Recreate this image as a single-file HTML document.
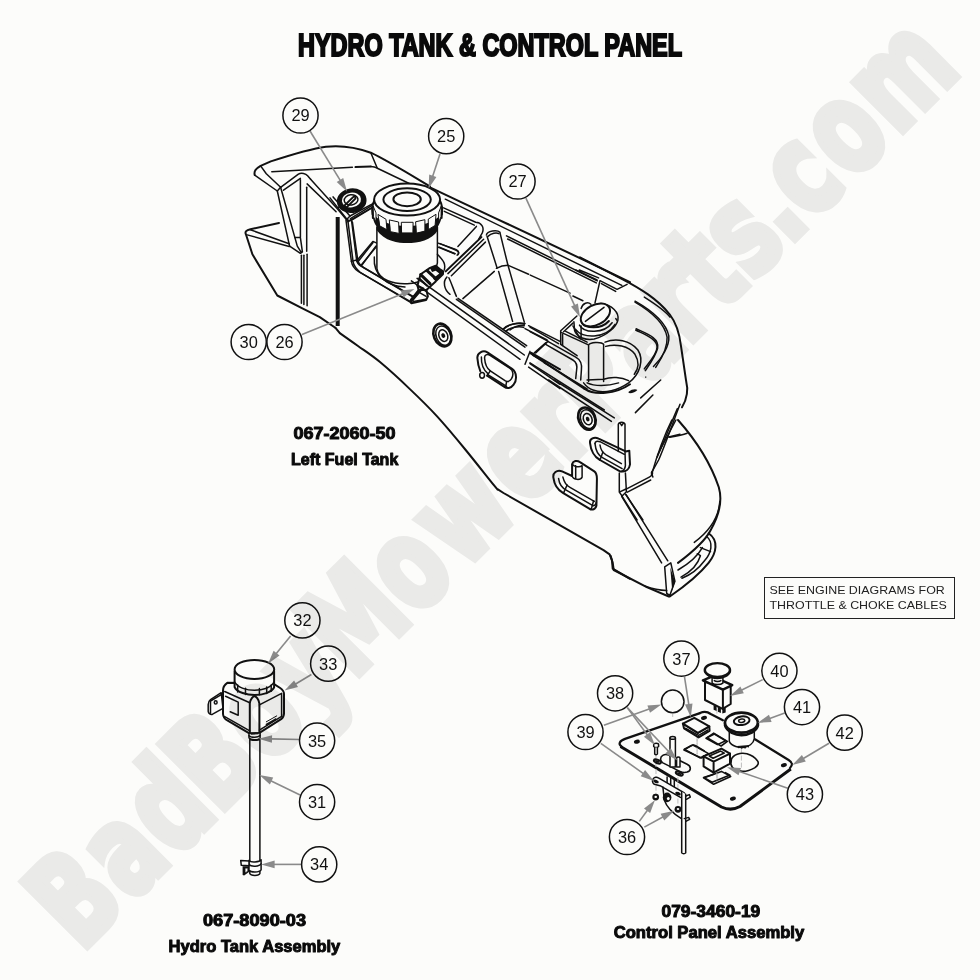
<!DOCTYPE html>
<html lang="en"><head><meta charset="utf-8"><title>Hydro Tank &amp; Control Panel</title>
<style>
html,body{margin:0;padding:0;background:#fcfcfa;}
body{width:980px;height:980px;overflow:hidden;}
svg{display:block;}
.t{font-family:"Liberation Sans",sans-serif;}
.b{font-family:"Liberation Sans",sans-serif;font-weight:bold;fill:#0a0a0a;stroke:#0a0a0a;stroke-width:.55;stroke-linejoin:round;}
.n{font-family:"Liberation Sans",sans-serif;font-size:16.4px;fill:#111;text-anchor:middle;}
.c{fill:#fcfcfa;stroke:#111;stroke-width:1.5;}
.l{stroke:#8a8a8a;stroke-width:1.6;fill:none;}
.a{fill:#8a8a8a;stroke:none;}
.k{fill:none;stroke:#111;stroke-width:1.5;stroke-linecap:round;stroke-linejoin:round;}
.k2{fill:none;stroke:#111;stroke-width:2;stroke-linecap:round;stroke-linejoin:round;}
.k1{fill:none;stroke:#111;stroke-width:1;stroke-linecap:round;stroke-linejoin:round;}
.w{fill:#fcfcfa;stroke:#111;stroke-width:1.5;stroke-linecap:round;stroke-linejoin:round;}
.w2{fill:#fcfcfa;stroke:#111;stroke-width:2;stroke-linecap:round;stroke-linejoin:round;}
.f{fill:#111;stroke:none;}
.g{fill:none;stroke:#bdbdbd;stroke-width:1;}
</style></head><body>
<svg width="980" height="980" viewBox="0 0 980 980">
<rect width="980" height="980" fill="#fcfcfa"/>
<!-- title.svg -->
<text class="b" x="298" y="55.6" font-size="31.4" textLength="384" lengthAdjust="spacingAndGlyphs" style="stroke-width:2.2;stroke-linejoin:miter">HYDRO TANK &amp; CONTROL PANEL</text>

<!-- tank.svg -->
<g id="tank">
<path class="k2" d="M 254.7 175.1 C 253.7 170.6 256.1 168.6 260.6 165.9 L 270.8 161.4 C 291.2 154.7 311.6 148.6 325.9 146.7 C 340.2 145.1 354.5 146.7 370.8 152.7 C 387.1 160.4 409.6 174.3 430 186.5"/>
<path class="k" d="M 271.8 171.8 L 352.4 167.3"/>
<path class="k2" d="M 355.5 167.1 L 370.8 166.5"/>
<path class="k" d="M 370.8 152.7 L 377.3 168.2"/>
<path class="k" d="M 370.8 166.5 C 373.9 166.5 375.9 167.3 377.3 168.2 C 393.3 175.7 413.7 185.9 430 193.5"/>
<path class="k" d="M 260.6 165.9 L 266.3 173.7 L 280.6 187.3"/>
<path class="k" d="M 254.7 175.1 L 277.3 191 L 280.6 187.3"/>
<path class="k" d="M 277.3 191 L 289.6 246.1"/>
<path class="k" d="M 280.6 187.3 L 294.9 237.6"/>
<path class="k" d="M 280.6 187.3 L 298.4 174.1 C 301.4 172.2 305.9 173.7 307.6 175.7 L 310.6 179.2"/>
<path class="k" d="M 283.5 190.2 L 300.4 178.4"/>
<path class="k" d="M 300.4 179.8 L 300.4 236.9"/>
<path class="k" d="M 306.7 187.3 L 306.7 251.2"/>
<path class="k" d="M 289.6 246.1 L 300.4 253.3 L 302.4 251.8 L 300.4 237.6 L 294.9 237.6 L 297.3 246.1 L 301.4 252.7"/>
<path class="k" d="M 301.4 255.3 L 301.4 303.3"/>
<path class="k" d="M 303.9 255.3 L 303.9 304.5"/>
<path class="k" d="M 307.1 254.3 L 307.1 305.7"/>
<path class="k2" d="M 279 222.9 L 250.4 229.2 C 246.3 230.2 244.7 231.8 245.9 234.3 L 252.4 254.3 L 277.3 295.5 L 302.4 308.4 L 319.8 317.1 L 335.3 327.8"/>
<path class="k" d="M 247.3 234.9 L 289.2 246.5"/>
<path class="k" d="M 250.4 229.8 L 289.2 243.7"/>
<path class="k" d="M 310.6 179.2 L 338.2 209.8 L 348 221.6"/>
<path class="k" d="M 307.1 183.9 L 336.1 211.8"/>
<path d="M337.7 217V326" stroke="#111" stroke-width="4" fill="none"/>
<path class="k" d="M 348 221.6 L 373.9 206.3"/>
<path class="k" d="M 350.4 218.6 L 372.9 204.9"/>
<path class="k" d="M 348 221.6 L 353.1 261.8 C 353.7 265.5 355.5 268.2 360.6 272.7 L 412.2 303.3"/>
<path class="k" d="M 352.4 222 L 357.8 260.4 C 358.6 263.5 360.6 265.5 363.7 267.6 L 414.7 298.2"/>
<path class="k" d="M 357.8 262 L 372.9 242.7"/>
<path class="k" d="M 361.6 265.5 L 375.9 246.1"/>
<path class="k2" d="M 335.3 327.7 L 339.8 333.1  C 342.8 335.2 351.3 341.2 358.0 346.0 C 364.7 350.8 371.6 355.1 380.0 362.1 C 388.4 369.1 399.1 378.8 408.6 387.9 C 418.1 396.9 427.6 406.0 437.1 416.4 C 446.6 426.8 456.2 438.4 465.7 450.0 C 475.2 461.6 489.0 479.2 494.3 485.7 C 499.6 492.2 497.0 488.6 497.5 489.2 L 503.5 493 L 603.5 550.2 L 609.6 554.3 L 612 560.4 L 612.7 568.6 L 630 578.8"/>
<path class="k2" d="M 610.6 555.7 L 612.7 562.9 L 613.7 570 L 647.3 587.3 L 668.8 596.5"/>
<path class="k2" d="M 678 420 C 694.3 438.4 710.6 462.9 718.8 487.3 C 722.9 501.6 718.8 515.9 710.6 530.2 C 706.5 538.4 694.3 550.6 678 562.9"/>
<path class="k" d="M 719.8 501.6 C 718.8 515.9 710.6 530.2 694.3 542.4"/>
<path class="k2" d="M 708.6 533.3 C 718.8 540.4 716.7 552.7 708.6 562.9 C 700.4 573.1 686.1 585.3 669.8 596.5"/>
<path class="k" d="M 706.5 536.3 C 713.7 542.4 711.6 552.7 704.5 560.8 C 698.4 569 690.2 575.1 682 578.2"/>
<path class="k" d="M 700.4 547.6 L 710.6 551.6"/>
<path class="k" d="M 678 570 C 690.2 562.9 698.4 554.7 702.4 547.6"/>
<path class="k" d="M 681 577.1 C 692.2 571 698.4 562.9 700.4 555.7 L 697.3 553.7"/>
<path class="k" d="M 621.8 496.5 L 661.6 562.9"/>
<path class="k" d="M 625.9 494.5 L 667.8 560.8"/>
<path class="k" d="M 664.7 566.9 L 670.8 562.9 L 674.9 581.2 L 669.8 595.5 L 666.7 593.5 Z"/>
<path class="f" d="M 670.2 567.3 L 675.1 581.6 L 672.2 590.4 Z"/>
<path class="k" d="M 645.3 586.3 C 653.5 589.4 661.6 590.4 666.7 590.4"/>
<path class="k" d="M 651.4 475.1 C 655.5 460.8 663.7 436.3 671.8 420 M 657.6 454.7 L 675.9 420"/>
<path class="k" d="M 669.8 437.3 C 675.9 436.3 682 435.3 687.1 433.3"/>
<path class="k2" d="M 580 257.3 L 620.8 278.4 C 641.2 289 657.6 299.2 669.8 314.5 C 676.9 323.7 679.6 333.9 681 346.1 L 686.1 380.8 C 688.2 389 688.2 397.1 682 407.3"/>
<path class="k" d="M 635.1 301.2 C 651.4 310.4 665.7 321.6 668.8 335.9 C 669.8 346.1 661.6 358.4 653.5 366.5"/>
<path class="k" d="M 636.1 328.8 C 647.3 333.9 659.6 338 657.6 348.2 C 655.5 356.3 649.4 364.5 645.3 370.6"/>
<path class="k2" d="M 430 187.3 C 491.2 216.5 572.9 254.3 630 282.2"/>
<path class="k" d="M 445.3 199.2 L 621.8 285.3"/>
<path class="k" d="M 506.5 235.9 L 597.3 280.8 M 507.6 239 L 596.3 282.9"/>
</g>

<!-- tank2.svg -->
<g id="tank2">
<path class="k" d="M 330 197.9 L 346.9 219.3 C 348.3 220.9 350 220.9 351.7 220 L 372.9 207.4"/>
<path class="k" d="M 333.1 196.9 L 350 216 L 372.9 203.6"/>
<path class="k" d="M 338.6 207.4 L 341.7 205.1 M 346.9 219.3 L 350 216"/>
<path class="k" d="M 346 220.3 L 351.4 261.4 C 352.1 266 354.3 268.9 358.6 271.7 L 411.4 302.1"/>
<path class="k" d="M 351.4 219.3 L 356.6 260 C 357.1 262.9 358.6 264.6 360.9 266 L 414.3 297.1"/>
<path class="k" d="M 351.4 261.4 L 356.6 260"/>
<path class="k" d="M 356.6 260.9 L 372.9 241.4 L 376.9 243.1 M 360.9 265.4 L 376.9 246"/>
<path class="k" d="M 437.4 242.9 L 455.7 249.4 C 458.6 250.7 459.3 252.9 457.9 254.6 M 438 247.1 L 454.6 253.7"/>
<ellipse class="f" cx="351.7" cy="200.7" rx="14.9" ry="12.3" transform="rotate(-8 351.7 200.7)"/>
<ellipse class="w" cx="351.4" cy="200.0" rx="9.6" ry="7.4" transform="rotate(-8 351.4 200.0)" style="stroke:none"/>
<ellipse class="k" cx="351.1" cy="199.9" rx="6.9" ry="5.1" transform="rotate(-8 351.1 199.9)"/>
<path class="k2" d="M 344.9 205.1 L 353.6 196.6 M 347.1 206.9 L 355.4 198.6 M 344.9 205.1 C 344.3 206.6 346 207.7 347.1 206.9 M 353.6 196.6 C 354.6 196 356 197.4 355.4 198.6"/>
<path class="k" d="M 374.3 257.1 C 372.9 275.7 387.1 286.4 405 286.9"/>
<path class="w" d="M 376.9 227.1 L 376.9 268.6 C 378.6 280 394.3 284.3 407.1 283.7 C 421.4 282.9 435.7 275.7 437.4 262.9 L 437.4 227.1 Z"/>
<path class="f" d="M 372.9 212.9 L 372.9 217.9 C 373.6 221.4 375 224.3 376.6 226.4 L 376.6 230 C 384.3 241.4 398.6 243.1 407.1 243.1 C 418.6 243.1 431.4 240.7 438 230 L 438 226.4 C 439.7 223.6 441.1 220 441.6 217.9 L 441.6 212.9 Z"/>
<path class="w2" d="M 374.3 200.7 C 372.3 204.3 372 210 372.6 214.3 C 378.6 224.3 397.1 227.1 407.1 227.1 C 418.6 227.1 435.7 224.3 441.9 214.3 C 442.4 210 442 204.3 440 200.7 Z"/>
<path class="w" d="M 378.3 214.6 L 386 219.3 L 386.9 229.7 L 380 226 Z" style="stroke-width:1"/>
<path class="w" d="M 389.7 220 L 398.6 222 L 399.1 233.4 L 390.6 231.7 Z" style="stroke-width:1"/>
<path class="w" d="M 401.7 222.3 L 413.1 222.3 L 412.9 232.9 L 402 232.9 Z" style="stroke-width:1"/>
<path class="w" d="M 416 221.7 L 424.9 219.7 L 424.9 231.1 L 416.6 233.1 Z" style="stroke-width:1"/>
<path class="w" d="M 428.6 218.9 L 436 214.3 L 435.1 225.4 L 428.6 229.4 Z" style="stroke-width:1"/>
<path class="k2" d="M 372.6 207.4 L 372.9 217.9 M 441.9 207.4 L 441.6 217.9"/>
<path class="w" d="M 373.3 206.4 L 376 212.9 L 376 222.1 L 373.6 217.1 Z" style="stroke-width:1"/>
<path class="w" d="M 441.1 206.4 L 438.6 212.9 L 438.6 222.1 L 440.9 217.1 Z" style="stroke-width:1"/>
<ellipse class="w2" cx="407.1" cy="199.6" rx="33.0" ry="16.0"/>
<ellipse class="k2" cx="407.1" cy="199.6" rx="23.7" ry="11.4"/>
<ellipse class="k2" cx="407.1" cy="199.3" rx="13.7" ry="6.9"/>
<path class="w" d="M 411.4 303.2 L 410.7 300 L 418.6 290 L 417.5 285.7 L 419.3 278.6 L 420.7 274.3 L 430 267.9 L 435.7 265.7 L 440 269.3 L 443.2 271.4 L 442.9 274.3 L 435.7 281.4 L 426.4 290 L 427.9 296.4 L 426.1 300 Z" style="stroke-width:2"/>
<path class="f" d="M 430 268.2 L 435.7 265.9 L 443.2 271.4 L 442.9 274.6 L 435.7 281.4 L 432.9 278.6 L 439.3 273.6 L 435.7 270.7 L 432.1 272.1 Z"/>
<path class="k" d="M 420.7 274.6 L 430 283.6 M 427.1 270.7 L 435.7 278.6" style="stroke-width:3"/>
<path class="k" d="M 419.3 278.6 L 427.1 285.7 M 418.6 290 L 425.7 290 L 426.4 290 M 417.5 285.7 L 423.6 288.6" style="stroke-width:2"/>
<path class="k" d="M 412.1 299.6 L 420.4 290" style="stroke-width:3.4"/>
<path class="k" d="M 413.6 301.6 L 425.7 299.3 M 420 292.9 L 426.1 296.4 M 411.4 303.2 L 413.6 301.6 L 412.1 299.6"/>
<path class="k" d="M 437.4 254.3 C 444.3 261.4 445.7 264.3 444.3 270"/>
</g>

<!-- tank3.svg -->
<g id="tank3">
<path class="k" d="M 443.6 207.9 L 475.7 222.3 C 481.4 222.6 484.6 227.4 482.3 232.9 L 478.6 239.3"/>
<path class="k" d="M 444.3 211.4 L 474.3 225.1"/>
<path class="k" d="M 476.4 226.4 L 457.9 246.4"/>
<path class="k2" d="M 481.4 237.1 L 445.7 271.4"/>
<path class="k" d="M 483.6 239.3 L 447.9 273.6"/>
<path class="k" d="M 485.4 242.1 L 451.4 275.7"/>
<path class="k" d="M 440 243.6 L 455.7 250 C 459.3 251.4 459.6 253.7 457.1 255.1 M 439.3 247.1 L 455.1 253.7"/>
<path class="k" d="M 486.4 235 C 487.1 230.7 497.1 229.3 500 232.3 M 487.9 236.4 C 491.4 233.1 496.4 232.3 498.9 233.7"/>
<path class="k" d="M 487.1 236.4 L 497.1 267.9 M 498.6 271.4 L 512.6 321.4"/>
<path class="k" d="M 500 232.9 L 507.9 265 L 524.3 322.1"/>
<path class="k" d="M 496.4 268.3 C 500 266.4 504.3 265.4 507.9 265.3"/>
<path class="k" d="M 508.3 265.4 L 528.6 274.3 M 530.3 275.1 L 570 293.1"/>
<path class="k" d="M 494.3 271.4 L 462.9 298.6"/>
<path class="k" d="M 446.9 277.1 C 442.6 281.4 444 290 450 294.3 M 448.9 277.7 C 451.4 282.9 453.6 290 456.4 296.4"/>
<path class="k" d="M 502.9 329.3 C 507.1 324.3 518.6 322.1 525 323.6 M 510 330 C 514.3 326.4 520 325 524.3 325.7"/>
<path class="k" d="M 600 280.7 L 617.1 289.3 L 627.1 284.3 M 601.4 283.6 L 615.7 291.4 M 600 280.7 L 595 302.9"/>
<path class="k" d="M 575.7 270 L 597.1 280 M 579.3 270 L 598.6 277.9"/>
<path class="k" d="M 572.9 296 L 582.9 300.7"/>
<path class="k" d="M 581.1 308.4 C 582.8 303.1 587.7 301.4 590.9 304.3"/>
<path class="k" d="M 600.7 303.5 C 612.1 304.7 619.5 312.9 617.9 320.2 C 616.2 326.7 607.2 335.7 594.2 339 C 586 340.6 577 337.3 574.6 330.8 L 573.9 321.8"/>
<path class="k" d="M 575.4 329.2 C 581.9 339 605.6 339 615 324.3"/>
<path class="k" d="M 579.5 325.1 C 583.6 333.3 604 334.1 612.1 322.7"/>
<path class="k2" d="M 581.9 322.7 C 585.2 328.4 600.7 330 608.9 321"/>
<path class="k" d="M 581.1 325.9 L 581.1 338.2"/>
<ellipse class="w2" cx="595.4" cy="314.9" rx="15.7" ry="10.0" transform="rotate(-28 595.4 314.9)"/>
<path class="k" d="M 585.4 321.4 L 604 307.3"/>
<path class="k" d="M 615.8 318.6 L 617 320.4"/>
<path class="k" d="M 560.7 330.7 L 576.9 316 M 560.7 330.7 L 560.7 344.3 M 563.6 331.7 L 572.9 323.1"/>
<path class="k" d="M 562.6 334.3 L 562.6 345.4 M 565.7 331.4 L 587.1 342.1"/>
<path class="k" d="M 561.7 332.6 L 587.9 344.6 M 572.9 326 L 580.3 338.9"/>
<path class="k" d="M 588.6 345 C 590 342.1 601.4 341.4 603.6 344.3 L 603.6 381.4 M 588.6 345 L 588.6 381.4"/>
<path class="k" d="M 560.7 344.3 L 577.1 355.7"/>
<path class="k" d="M 535.7 352.9 L 547.9 341.4 L 575.7 357.1 C 580 359.4 582.3 362.9 581.4 370 L 580.7 380"/>
<path class="k" d="M 545.7 344.3 L 572.9 360 C 576.4 362.1 577.4 365.7 576.6 370 L 575.7 378.6"/>
<path class="k" d="M 530 327.1 L 558.6 343.6 M 530 331.7 L 548.3 341.4"/>
<path class="k2" d="M 530 352.9 L 584.3 388.6"/>
<path class="k" d="M 544.3 362.9 L 587.1 388.9"/>
<path class="k" d="M 530 362.9 L 604.3 410"/>
<path class="k" d="M 605 342.1 C 615.7 337.9 630 340 637.9 350 C 644.3 360 640 374.3 628.6 382.9 C 618.6 390 604.3 394.3 592.9 390 C 588.6 388.6 585.7 385.7 583.6 382.9"/>
<path class="k" d="M 605.7 346.4 C 615.7 343.6 628.6 345.7 635 354.3 C 639.3 361.4 638.6 368.6 634.3 374.3"/>
<path class="k" d="M 587.1 380 L 603.6 379.3 C 611.4 376.4 621.4 377.1 628.6 380.7"/>
<path class="k" d="M 587.1 382.9 C 594.3 386.4 607.1 386.4 618.6 382.9"/>
<path class="k2" d="M 584.3 388.6 C 594.3 395.7 615.7 394.3 630 384.3"/>
<path class="f" d="M 628.6 391.7 C 631.4 389.4 635.7 388.6 637.4 390 C 635.7 392.3 631.4 393.7 628.6 393.1 Z"/>
<path class="f" d="M 645.1 376.6 L 646.3 376.6 L 646.3 377.7 L 645.1 377.7 Z"/>
<path class="k" d="M 635 302.1 C 648.6 310 664.3 321.4 667.1 337.1 C 667.9 350 658.6 362.9 655.7 367.4"/>
<path class="k" d="M 635.7 330 C 644.3 334.3 657.1 338.6 657.1 347.1 C 657.1 354.3 648.6 362.9 644.3 368.9"/>
<path class="k" d="M 644.3 297.1 C 655.7 304.3 665.7 311.4 670 317.1"/>
</g>

<!-- tank4.svg -->
<g id="tank4">
<ellipse class="k2" cx="442.4" cy="335.0" rx="8.6" ry="11.7" transform="rotate(-22 442.4 335.0)" style="stroke-width:2.6"/>
<ellipse class="k" cx="443.3" cy="335.6" rx="7.1" ry="10.0" transform="rotate(-22 443.3 335.6)"/>
<ellipse class="k" cx="443.3" cy="335.6" rx="4.3" ry="6.0" transform="rotate(-22 443.3 335.6)"/>
<ellipse class="f" cx="443.3" cy="335.6" rx="1.9" ry="2.4" transform="rotate(-22 443.3 335.6)"/>
<path class="k" d="M 411.4 280.9 L 520 359.3"/>
<path class="k" d="M 417.1 278.4 L 524.3 355"/>
<path class="k" d="M 456.4 299.3 L 525 347.1 M 458 298.3 L 526.6 345.7"/>
<path class="k" d="M 530 351.4 L 525 364.3"/>
<path class="k2" d="M 531.4 352.9 L 560 369.3"/>
<path class="k" d="M 532.9 355.4 L 544.3 361.7"/>
<path class="k" d="M 530 363.6 L 560 384.3 M 528.6 367.1 L 560 388.6"/>
<path class="k" d="M 503.6 329.3 C 507.1 325 517.1 322.1 524.3 324.3 M 505.7 331.4 C 510 327.4 518.6 325.7 523.6 327.4"/>
<path class="k" d="M 525 328.6 L 547.1 340 M 528.6 325.7 L 560 341.4"/>
<path class="k" d="M 534.3 352.9 L 545.7 342.9"/>
<path class="k2" d="M 480.3 371.1 C 478.6 367.1 477.7 362.9 477.4 358.3 C 476.9 352.9 482.9 349.7 487.4 352.3 L 512.1 368.9 C 516.9 372.1 517.1 380.7 513.6 384.6 C 510.7 388.6 507.1 388.9 504 386.6 L 487.1 375.7"/>
<ellipse class="k" cx="482.1" cy="375.3" rx="2.4" ry="2.9"/>
<path class="k" d="M 484.6 358.3 C 484.3 355 487.1 353.6 490 355.4 L 510 368.3 C 513.6 370.7 513.6 375.7 511.4 378.9 C 509.7 381.4 507.4 382.1 505.4 380.9 L 490.3 370.9 C 487.1 368.6 485 364.3 484.6 358.3"/>
<path class="k" d="M 487.4 374.3 L 506.6 386.3 M 490.3 370.9 L 487.1 375.7 M 506.6 381.4 L 505.7 387.1"/>
<path class="k" d="M 481.4 357.1 C 481.1 364.3 483.6 370 487.9 373.6"/>
<ellipse class="k2" cx="586.9" cy="418.6" rx="8.3" ry="11.4" transform="rotate(-22 586.9 418.6)" style="stroke-width:2.6"/>
<ellipse class="k" cx="587.7" cy="419.1" rx="6.9" ry="9.7" transform="rotate(-22 587.7 419.1)"/>
<ellipse class="k" cx="587.7" cy="419.1" rx="4.2" ry="5.8" transform="rotate(-22 587.7 419.1)"/>
<ellipse class="f" cx="587.7" cy="419.1" rx="1.8" ry="2.4" transform="rotate(-22 587.7 419.1)"/>
<path class="k" d="M 548.6 380 L 611.4 421.4 M 554.3 380 L 614.3 417.9"/>
<path class="k" d="M 660.7 380 L 640.7 397.9 M 652.9 395 L 635.4 412.6"/>
<path class="k" d="M 618.3 424.3 L 618.3 451.4 M 625 424.3 L 625 451.4 M 618.3 424.3 C 618.9 421.4 624.3 421.4 625 424.3 M 620 422.9 L 621.7 425.7 L 623.6 422.9"/>
<path class="k2" d="M 590 442.9 C 589.3 438.6 594.3 436.4 598.6 438.6 L 625.7 451.4 L 629.3 450.7 L 630 464.3 C 629.3 469.3 625.7 471.4 622.9 471.4 L 620 471.4 L 600 460 C 594.3 457.1 590.7 450 590 442.9"/>
<path class="k" d="M 595 443.6 C 595 441.4 597.1 440.7 600 441.7 L 624.3 454.3"/>
<path class="k" d="M 595 443.6 C 595.7 451.4 598.6 455.7 602.9 457.9 L 622.1 468.6"/>
<path class="k" d="M 600 445 C 600.7 450 602.9 452.9 605.7 454.6 L 621.4 463.6"/>
<path class="k" d="M 625 451.4 L 625.4 465.7 C 625.1 468.6 623.6 470.7 621.4 471.4 M 602.9 452.1 L 600 460"/>
<path class="k" d="M 619.3 472.9 L 619.3 492.1 L 622.1 496 L 626.4 491.7 L 625.4 472.9 M 619.3 492.1 L 625.4 489.3"/>
<path class="k" d="M 625.7 489.3 L 649.3 477.1 C 652.1 475.7 653.1 473.6 652.1 471.4 M 627.4 492.1 L 650.7 480"/>
<path class="k" d="M 622.1 496.4 L 637.1 520 M 625.7 494.3 L 642.9 520"/>
<path class="k" d="M 680 404.3 C 672.9 422.9 664.3 447.1 658.6 460 L 651.4 472.9 L 652.9 477.1"/>
<path class="k" d="M 677.4 408.6 C 670 425.7 662.9 444.3 657.1 457.1"/>
<path class="k" d="M 668.6 437.1 L 680 434.3"/>
<path class="k2" d="M 553.6 478.6 C 552.1 472.9 557.1 469.3 562.1 471.4 L 572.1 476 L 572.1 464.3 C 572.9 460.7 577.1 460 580 462.1 L 594.3 471.4 C 596.4 472.9 597.1 475.7 596.9 480 L 596.4 505.7 C 595.7 509.3 592.1 510.7 589.3 508.6 L 562.9 492.9 C 557.1 489.3 554.3 484.3 553.6 478.6"/>
<path class="k" d="M 572.1 476 C 573.6 480.3 580.7 480.3 582.1 477.1 L 582.1 465.7 M 575.7 465.7 L 575.7 478.6 M 572.1 464.3 C 574.3 467.1 580 467.4 582.1 465.7"/>
<path class="k" d="M 558.6 478.6 C 559.3 485 562.9 488.6 567.1 490.7 L 592.9 505.7"/>
<path class="k" d="M 562.9 477.1 C 564.3 482.9 566.4 485.7 570 487.4 L 594.3 501.4"/>
<path class="k" d="M 567.1 485 L 563.6 492.9 M 593.6 500.7 L 591.4 508.6 M 592.9 505.7 C 594.3 505.7 596 504.3 596.4 502.1"/>
</g>

<!-- hydro.svg -->
<g id="hydro">
<path class="w" d="M 221.2 692.7 L 210.5 699.6 C 208.7 701 208.2 702.4 208.2 704.5 L 208.2 711.4 C 208.4 713.5 210.5 714.9 212.6 714.2 L 223 708.3 Z"/>
<path class="k" d="M 210.5 701 L 210.5 713.2 M 210.5 701 L 222.1 694.1"/>
<ellipse class="k" cx="215.7" cy="702.4" rx="1.4" ry="1.7"/>
<path class="w2" d="M 227.3 682.8 C 224.7 684.5 223 687.1 223 690.6 L 223 714 C 223.3 717.5 224.7 719.2 227.3 720.4 L 249.8 733.6 L 259.4 732.9 L 281.1 719.2 C 283.3 717.5 284 715.8 284 713.2 L 284 694.1 C 284 691.5 282.8 689.7 280.2 688 L 273.3 683.7 Z"/>
<path class="k" d="M 259.4 704.8 L 281.6 693.4 M 281.6 693.4 L 281.6 716.3 M 259.4 730.2 L 281.6 716.3"/>
<path class="k" d="M 224.7 691.5 L 249.8 702.8"/>
<path class="k" d="M 225.6 696.2 L 238.2 702.1 L 238.2 715.2 L 230.2 711.8"/>
<path class="k" d="M 224.7 716.6 L 249.8 730.9"/>
<path class="k2" d="M 249.8 733.6 L 249.8 703.1 C 250.7 698.4 253.3 696.2 254.5 696.2 C 255.9 696.2 258.7 698.9 259.4 703.6 L 259.4 732.9"/>
<path class="f" d="M 265.6 723.9 L 276 718 L 276.4 719.8 L 266 725.7 Z"/>
<path class="k1" d="M 266.3 721.8 L 276.7 715.9"/>
<path class="w2" d="M 234.6 671.2 L 234.6 687.1 C 236.8 692.3 247.2 695.1 254.5 695.1 C 262.9 695.1 271.5 692.3 274.1 687.5 L 274.1 671.2 Z"/>
<path class="k" d="M 234.6 681.9 C 237.7 688 247.2 690.3 254.5 690.3 C 262.9 690.3 271.5 687.5 274.1 681.9"/>
<path class="k" d="M 237.7 685.1 L 237.7 692 M 245.5 688.2 L 245.5 694.4 M 259.4 688.5 L 259.4 694.8 M 266.7 687.1 L 266.7 693.4 M 271.2 685.1 L 271.2 691.3"/>
<ellipse class="w2" cx="254.4" cy="669.4" rx="19.8" ry="9.5"/>
<path class="w" d="M 249 733.3 L 249 737.8 C 249.8 740.2 258.5 740.6 260.1 737.8 L 260.1 732.9 Z"/>
<path class="k" d="M 249 735.7 C 250.7 737.8 258.5 737.8 260.1 735.4"/>
<path class="f" d="M 250.7 733.3 L 258.5 732.9 L 258.5 734.3 L 250.7 734.7 Z"/>
<path class="w" d="M 249.8 739 L 249.8 873.6 C 250.7 876.1 259 876.1 259.9 873.6 L 259.9 739 C 258.5 740.8 251.1 740.8 249.8 739 Z"/>
<path class="w" d="M 249 860.4 L 249 870.2 C 250.7 872.6 259.4 872.6 261.1 869.8 L 261.1 859.8 C 259.4 862.2 250.7 862.9 249 860.4 Z"/>
<path class="k" d="M 249 864.6 C 251.1 867 259.4 866.7 261.1 863.9"/>
<path class="w" d="M 240.7 860.4 L 249 861.1 L 249 865.7 L 241.3 865.3 Z"/>
<path class="f" d="M 242.6 866.3 L 249 866.3 L 249 871.9 L 244.1 875.4 L 242.6 875 Z"/>
<path class="w" d="M 245.2 868.1 L 247.9 868.1 L 247.9 871.2 L 245.2 872.9 Z" style="stroke-width:.8"/>
</g>

<!-- panel.svg -->
<g id="panel">
<path d="M620.5 746.5 L721.5 807 Q731 811.5 740 806.5 L790.8 769" fill="none" stroke="#111" stroke-width="3" stroke-linejoin="round"/>
<path class="k" d="M 700 713.1 L 625 738.9 C 619.3 741.1 617.9 744 621.7 746.6" style="stroke-width:2.2"/>
<path class="k" d="M 700 713.1 C 703.6 711.4 707.9 712 710.7 714 L 722.9 720.3 M 755 739.3 L 788.6 760 C 792.6 762.6 792.9 765.1 790 768" style="stroke-width:2.2"/>
<ellipse class="f" cx="636.9" cy="741.7" rx="3.0" ry="2.0" transform="rotate(-15 636.9 741.7)"/>
<ellipse class="f" cx="704.0" cy="717.9" rx="3.0" ry="2.0" transform="rotate(-15 704.0 717.9)"/>
<ellipse class="f" cx="732.9" cy="798.6" rx="3.0" ry="2.0" transform="rotate(-15 732.9 798.6)"/>
<ellipse class="f" cx="783.9" cy="765.1" rx="3.0" ry="2.0" transform="rotate(-15 783.9 765.1)"/>
<path class="g" d="M 656 755 L 656 777.1 M 656 785.7 L 656 794.3 M 677.9 777.1 L 677.9 791.4 M 677.9 798.6 L 677.9 806.4 M 697.1 736.4 L 697.1 754.3 M 717.1 774.3 L 717.1 780.7 M 672.7 714 L 672.7 716.9" stroke-dasharray="5 2"/>
<path class="g" d="M 741.4 748.6 L 741.4 768.9 M 716.9 708.6 L 716.9 713.6" stroke-dasharray="5 2"/>
<path class="k" d="M 684.3 749.3 L 692.9 745 L 708.6 753.6 L 700 757.9 Z" style="stroke-width:1.6"/>
<path class="k" d="M 706 738.3 L 714.3 734 L 725.7 740.7 L 717.4 744.6 Z" style="stroke-width:1.6"/>
<path class="k" d="M 703.6 777.9 L 721.4 771.4 L 730.7 776.4 L 713.6 784.3 Z" style="stroke-width:1.6"/>
<path class="k" d="M 731.4 759.3 C 733.1 754.6 740 752.3 746.9 753.7 C 751.4 755 755.7 758.3 757.4 760.7 C 759.3 763.1 757.9 765.7 754.6 767.9 C 751.4 769.7 747.1 771.4 742.9 771.4 C 737.1 771.4 731.7 768.9 730.9 764 Z" style="stroke-width:1.6"/>
<path class="k" d="M 660.7 760 C 660 755.7 664.3 753.6 668.6 755 L 687.1 764.3 C 691.4 766.4 691.4 770.7 687.1 772.1 C 684.3 772.9 681.4 772.1 679.3 771.1 L 662.9 762.9 C 661.4 762.1 660.9 761.1 660.7 760" style="stroke-width:1.6"/>
<ellipse class="k2" cx="657.4" cy="761.4" rx="3.7" ry="1.7" transform="rotate(22 657.4 761.4)"/>
<ellipse class="k2" cx="679.3" cy="773.6" rx="3.7" ry="1.7" transform="rotate(22 679.3 773.6)"/>
<ellipse class="f" cx="657.4" cy="761.4" rx="2.6" ry="1.0" transform="rotate(22 657.4 761.4)"/>
<ellipse class="f" cx="679.3" cy="773.6" rx="2.6" ry="1.0" transform="rotate(22 679.3 773.6)"/>
<path class="w" d="M 653.7 744.6 C 653.7 742.9 658.6 742.9 658.6 744.6 L 658.6 746.6 C 657.7 747.7 654.6 747.7 653.7 746.6 Z"/>
<path class="w" d="M 654.7 747.4 L 654.7 754 C 655.4 754.9 656.9 754.9 657.4 754 L 657.4 747.4"/>
<path class="w" d="M 670 737.9 L 670 767.1 L 675.4 767.1 L 675.4 737.9 Z"/>
<ellipse class="w" cx="672.7" cy="737.9" rx="2.7" ry="1.4"/>
<path class="w" d="M 676.6 757.9 L 676.6 767.1 L 680 767.1 L 680 757.9 C 679.3 756.6 677.3 756.6 676.6 757.9 Z"/>
<path class="k" d="M 667.1 777.1 L 667.1 784.3 M 674.3 780 L 674.3 787.1 M 670.7 778.3 L 670.7 785.7"/>
<path class="w" d="M 653.1 778.9 C 654.3 777.1 657.1 777.1 659.3 778.3 L 684.3 792.9 L 685.7 796 L 683.6 798.6 L 680 797.1 L 660 785.7 L 654.3 784.3 C 652.1 782.9 652.1 780.3 653.1 778.9 Z"/>
<ellipse class="f" cx="656.0" cy="781.4" rx="2.9" ry="1.6" transform="rotate(22 656.0 781.4)"/>
<ellipse class="f" cx="678.0" cy="793.6" rx="2.9" ry="1.6" transform="rotate(22 678.0 793.6)"/>
<path class="k" d="M 662.9 787.1 L 664.3 800 C 667.1 808.6 674.3 814.3 681.4 818.6 L 685.7 821.4"/>
<ellipse class="f" cx="667.1" cy="797.4" rx="4.3" ry="4.9"/>
<ellipse class="w" cx="668.3" cy="798.6" rx="1.4" ry="1.7" style="stroke:none"/>
<ellipse class="f" cx="655.7" cy="797.1" rx="3.4" ry="3.4"/>
<ellipse class="w" cx="655.7" cy="796.9" rx="1.3" ry="1.1" style="stroke:none"/>
<ellipse class="f" cx="678.0" cy="809.3" rx="3.4" ry="3.4"/>
<ellipse class="w" cx="678.0" cy="809.0" rx="1.3" ry="1.1" style="stroke:none"/>
<path class="w" d="M 681.7 791.4 L 681.7 852.9 C 682.6 854 684.9 854 685.7 852.9 L 685.7 794.3"/>
<path class="k" d="M 685.7 796 L 689.3 794.6 L 690.3 797.1 L 686.4 799.3 M 684.3 818.6 L 688.6 817.4 L 689.7 819.4 L 685.7 821.4"/>
<path class="w2" d="M 682.9 723.6 L 684 728.3 L 698.6 737.4 L 709.6 730.9 L 709.3 726.4 L 697.9 732.9 Z"/>
<path class="w2" d="M 682.9 723.6 L 694.3 717.9 L 709.3 726.4 L 697.9 732.9 Z"/>
<path class="k" d="M 685.7 728.3 L 698.6 735.4 L 708 730"/>
<path class="w2" d="M 703.6 756.4 L 703.6 766.4 L 713.6 772.6 L 730 763.6 L 730 753.6 L 721.4 748.6 Z"/>
<path class="k2" d="M 703.6 756.4 L 713.6 761.7 L 730 753.6 M 713.6 761.7 L 713.6 772.6"/>
<path class="k" d="M 709.3 756 L 720.7 751.1 L 724.3 753.1 L 713.1 758.3 Z" style="stroke-width:1.6"/>
<path class="k" d="M 713.6 774.3 L 703.6 777.4 L 712.1 782.3 L 730 775.1 L 725.4 772.6" style="stroke-width:1.6"/>
<path class="g" d="M 716.9 772.9 L 716.9 780.3 M 697.1 739.3 L 697.1 754.3" stroke-dasharray="5 2"/>
<path class="k" d="M 707.1 737.7 L 713.7 733.1 L 727.4 741.4 L 721.1 746 Z" style="stroke-width:1.6"/>
<path class="k" d="M 684 750 L 691.4 745.4 C 692.9 744.6 694.3 744.9 695.7 745.7 L 704.3 750.9 M 684 750 L 701.4 758 L 703.6 756.9" style="stroke-width:1.6"/>
<path class="w" d="M 729.3 730 L 729.3 741.4 C 731.4 746.6 740 747.7 742.9 747.4 C 748.6 747.1 753.6 743.6 754.3 738.6 L 754.3 730 Z"/>
<path class="f" d="M 737.1 746 L 738.6 748.6 L 740 746.6 L 741.7 749.1 L 743.4 746.9 L 745.1 748.9 L 746.6 746.3 L 748.6 747.7 L 749.4 744.9 Z"/>
<path class="w2" d="M 725 722.9 L 725.1 725.7 C 727.1 732.1 735.7 735.1 741.4 735.1 C 748.6 735.1 756.4 731.4 757.9 725.7 L 757.9 722.9 Z" style="stroke-width:2.6"/>
<ellipse class="w2" cx="741.4" cy="722.6" rx="16.4" ry="10.0" style="stroke-width:2.6"/>
<ellipse class="k2" cx="741.7" cy="720.7" rx="7.9" ry="4.3" transform="rotate(-8 741.7 720.7)"/>
<ellipse class="k" cx="741.7" cy="720.7" rx="3.1" ry="1.7" transform="rotate(-8 741.7 720.7)"/>
<path class="f" d="M 713.6 705 L 716.6 706.4 L 716.6 711.1 L 713.6 709.7 Z M 717.9 707.1 L 720.9 708.3 L 720.9 713.1 L 717.9 711.7 Z M 722.3 708.3 L 725.7 707.4 L 725.7 712.6 L 722.3 713.4 Z"/>
<path class="w2" d="M 705 682.1 L 705 700 L 722.6 708.9 L 730.7 704 L 730.7 685.4 Z"/>
<path class="k2" d="M 722.9 689.3 L 722.9 708.6"/>
<path class="w2" d="M 702.9 680.3 L 712.6 676.3 L 732.3 685.1 L 722.9 689.6 Z" style="stroke-width:2.4"/>
<path class="w" d="M 712.1 677.1 L 712.1 683.1 C 714.3 685.1 720.7 685.1 722.9 683.1 L 722.9 677.1 Z"/>
<path class="k" d="M 714.3 680.6 C 715.7 681.7 719.3 681.7 720.9 680.6"/>
<path class="w2" d="M 705 671.1 C 707.1 676.4 714.3 678 717.4 678 C 722.9 678 728.6 675.7 730 671.1 Z" style="stroke-width:2.4"/>
<ellipse class="w2" cx="717.4" cy="670.0" rx="12.6" ry="6.9" style="stroke-width:2.4"/>
</g>

<g id="leaders">
<line class="l" x1="310.0" y1="131.0" x2="341.0" y2="181.7"/><polygon class="a" points="347.0,191.5 336.7,182.0 343.2,178.0"/>
<line class="l" x1="440.0" y1="154.0" x2="432.2" y2="177.7"/><polygon class="a" points="428.6,188.6 429.2,174.6 436.4,177.0"/>
<line class="l" x1="525.9" y1="198.2" x2="575.2" y2="306.8"/><polygon class="a" points="580.0,317.3 571.0,306.6 577.9,303.4"/>
<line class="l" x1="302.0" y1="334.5" x2="403.8" y2="293.3"/><polygon class="a" points="414.5,289.0 403.4,297.6 400.6,290.5"/>
<line class="l" x1="290.6" y1="636.0" x2="275.3" y2="654.8"/><polygon class="a" points="268.0,663.7 273.6,650.8 279.5,655.6"/>
<line class="l" x1="311.4" y1="674.5" x2="294.4" y2="684.7"/><polygon class="a" points="284.5,690.6 294.1,680.4 298.0,686.9"/>
<line class="l" x1="299.8" y1="739.5" x2="270.0" y2="738.9"/><polygon class="a" points="258.5,738.7 272.1,735.2 271.9,742.8"/>
<line class="l" x1="300.1" y1="795.0" x2="269.7" y2="780.2"/><polygon class="a" points="259.4,775.1 273.2,777.6 269.9,784.4"/>
<line class="l" x1="301.9" y1="864.4" x2="272.6" y2="864.4"/><polygon class="a" points="261.1,864.4 274.6,860.6 274.6,868.2"/>
<line class="l" x1="684.5" y1="676.9" x2="689.0" y2="705.9"/><polygon class="a" points="690.8,717.3 685.0,704.5 692.5,703.4"/>
<line class="l" x1="627.3" y1="707.6" x2="648.1" y2="736.0"/><polygon class="a" points="654.9,745.3 643.9,736.7 650.0,732.2"/>
<line class="l" x1="627.3" y1="707.6" x2="669.4" y2="752.2"/><polygon class="a" points="677.3,760.6 665.3,753.4 670.8,748.2"/>
<line class="l" x1="603.9" y1="725.3" x2="650.6" y2="708.4"/><polygon class="a" points="661.4,704.5 650.0,712.7 647.4,705.5"/>
<line class="l" x1="600.8" y1="743.3" x2="644.5" y2="774.3"/><polygon class="a" points="653.9,781.0 640.7,776.3 645.1,770.1"/>
<line class="l" x1="762.7" y1="679.6" x2="740.3" y2="690.8"/><polygon class="a" points="730.0,696.0 740.4,686.6 743.8,693.3"/>
<line class="l" x1="784.7" y1="713.1" x2="768.4" y2="719.0"/><polygon class="a" points="757.6,722.9 769.0,714.7 771.6,721.9"/>
<line class="l" x1="829.0" y1="743.3" x2="802.1" y2="759.2"/><polygon class="a" points="792.2,765.1 801.9,755.0 805.8,761.5"/>
<line class="l" x1="787.8" y1="788.2" x2="737.9" y2="771.0"/><polygon class="a" points="727.0,767.3 741.0,768.1 738.5,775.3"/>
<line class="l" x1="639.3" y1="821.4" x2="648.2" y2="809.3"/><polygon class="a" points="655.0,800.0 650.1,813.1 644.0,808.6"/>
<line class="l" x1="644.3" y1="827.1" x2="664.2" y2="816.2"/><polygon class="a" points="674.3,810.7 664.3,820.5 660.6,813.8"/>
</g>
<g id="callouts">
<circle class="c" cx="672.7" cy="701.4" r="11.3"/>
<circle class="c" cx="300.5" cy="115.5" r="17.6"/><text class="n" x="300.5" y="121.4">29</text>
<circle class="c" cx="446.2" cy="136.2" r="17.6"/><text class="n" x="446.2" y="142.1">25</text>
<circle class="c" cx="517.5" cy="181.5" r="17.6"/><text class="n" x="517.5" y="187.4">27</text>
<circle class="c" cx="248.7" cy="342.0" r="17.6"/><text class="n" x="248.7" y="347.9">30</text>
<circle class="c" cx="284.5" cy="342.0" r="17.6"/><text class="n" x="284.5" y="347.9">26</text>
<circle class="c" cx="302.4" cy="620.4" r="17.6"/><text class="n" x="302.4" y="626.3">32</text>
<circle class="c" cx="328.2" cy="663.7" r="17.6"/><text class="n" x="328.2" y="669.6">33</text>
<circle class="c" cx="317.1" cy="740.7" r="17.6"/><text class="n" x="317.1" y="746.6">35</text>
<circle class="c" cx="317.1" cy="802.0" r="17.6"/><text class="n" x="317.1" y="807.9">31</text>
<circle class="c" cx="319.2" cy="864.4" r="17.6"/><text class="n" x="319.2" y="870.3">34</text>
<circle class="c" cx="681.4" cy="658.6" r="17.6"/><text class="n" x="681.4" y="664.5">37</text>
<circle class="c" cx="615.1" cy="693.3" r="17.6"/><text class="n" x="615.1" y="699.2">38</text>
<circle class="c" cx="585.5" cy="732.0" r="17.6"/><text class="n" x="585.5" y="737.9">39</text>
<circle class="c" cx="779.4" cy="670.8" r="17.6"/><text class="n" x="779.4" y="676.7">40</text>
<circle class="c" cx="802.0" cy="707.1" r="17.6"/><text class="n" x="802.0" y="713.0">41</text>
<circle class="c" cx="844.7" cy="732.7" r="17.6"/><text class="n" x="844.7" y="738.6">42</text>
<circle class="c" cx="804.9" cy="794.3" r="17.6"/><text class="n" x="804.9" y="800.2">43</text>
<circle class="c" cx="627.0" cy="837.0" r="17.6"/><text class="n" x="627.0" y="842.9">36</text>
</g>
<!-- labels.svg -->
<g id="labels">
<text class="b" x="293.4" y="439.0" font-size="16.8" style="stroke-width:1" textLength="102.2" lengthAdjust="spacingAndGlyphs">067-2060-50</text>
<text class="b" x="291.1" y="464.5" font-size="16.8" style="stroke-width:1" textLength="107.2" lengthAdjust="spacingAndGlyphs">Left Fuel Tank</text>
<text class="b" x="202.9" y="926.3" font-size="16.8" style="stroke-width:1" textLength="103.2" lengthAdjust="spacingAndGlyphs">067-8090-03</text>
<text class="b" x="168.6" y="952.0" font-size="16.8" style="stroke-width:1" textLength="171.7" lengthAdjust="spacingAndGlyphs">Hydro Tank Assembly</text>
<text class="b" x="661.5" y="916.7" font-size="16.8" style="stroke-width:1" textLength="98.8" lengthAdjust="spacingAndGlyphs">079-3460-19</text>
<text class="b" x="613.7" y="937.7" font-size="16.8" style="stroke-width:1" textLength="190.5" lengthAdjust="spacingAndGlyphs">Control Panel Assembly</text>
<rect x="764.5" y="577.5" width="190" height="41" fill="#fcfcfa" stroke="#222" stroke-width="1"/>
<text class="t" x="769.5" y="593.9" font-size="11.4" fill="#222" textLength="175.3" lengthAdjust="spacingAndGlyphs">SEE ENGINE DIAGRAMS FOR</text>
<text class="t" x="769.5" y="608.9" font-size="11.4" fill="#222" textLength="177.2" lengthAdjust="spacingAndGlyphs">THROTTLE &amp; CHOKE CABLES</text>
</g>

<!-- watermark.svg -->
<g id="wm" style="mix-blend-mode:multiply" transform="translate(87.9 951.1) rotate(-45) scale(0.71 1)">
<text x="-8.6 91.6 178.8 265.5 364.3 453.5 533.3 658.1 752.5 877.3 960.8 1023.4 1119.5 1199.4 1265.9 1327.7 1399.4 1446.0 1526.8 1617.1" y="-4.0" font-family="'DejaVu Sans','Liberation Sans',sans-serif" font-weight="bold" font-size="125" fill="#ededed" stroke="#ededed" stroke-width="8" stroke-linejoin="miter">BadBoyMowerParts.com</text>
</g>

</svg>
</body></html>
